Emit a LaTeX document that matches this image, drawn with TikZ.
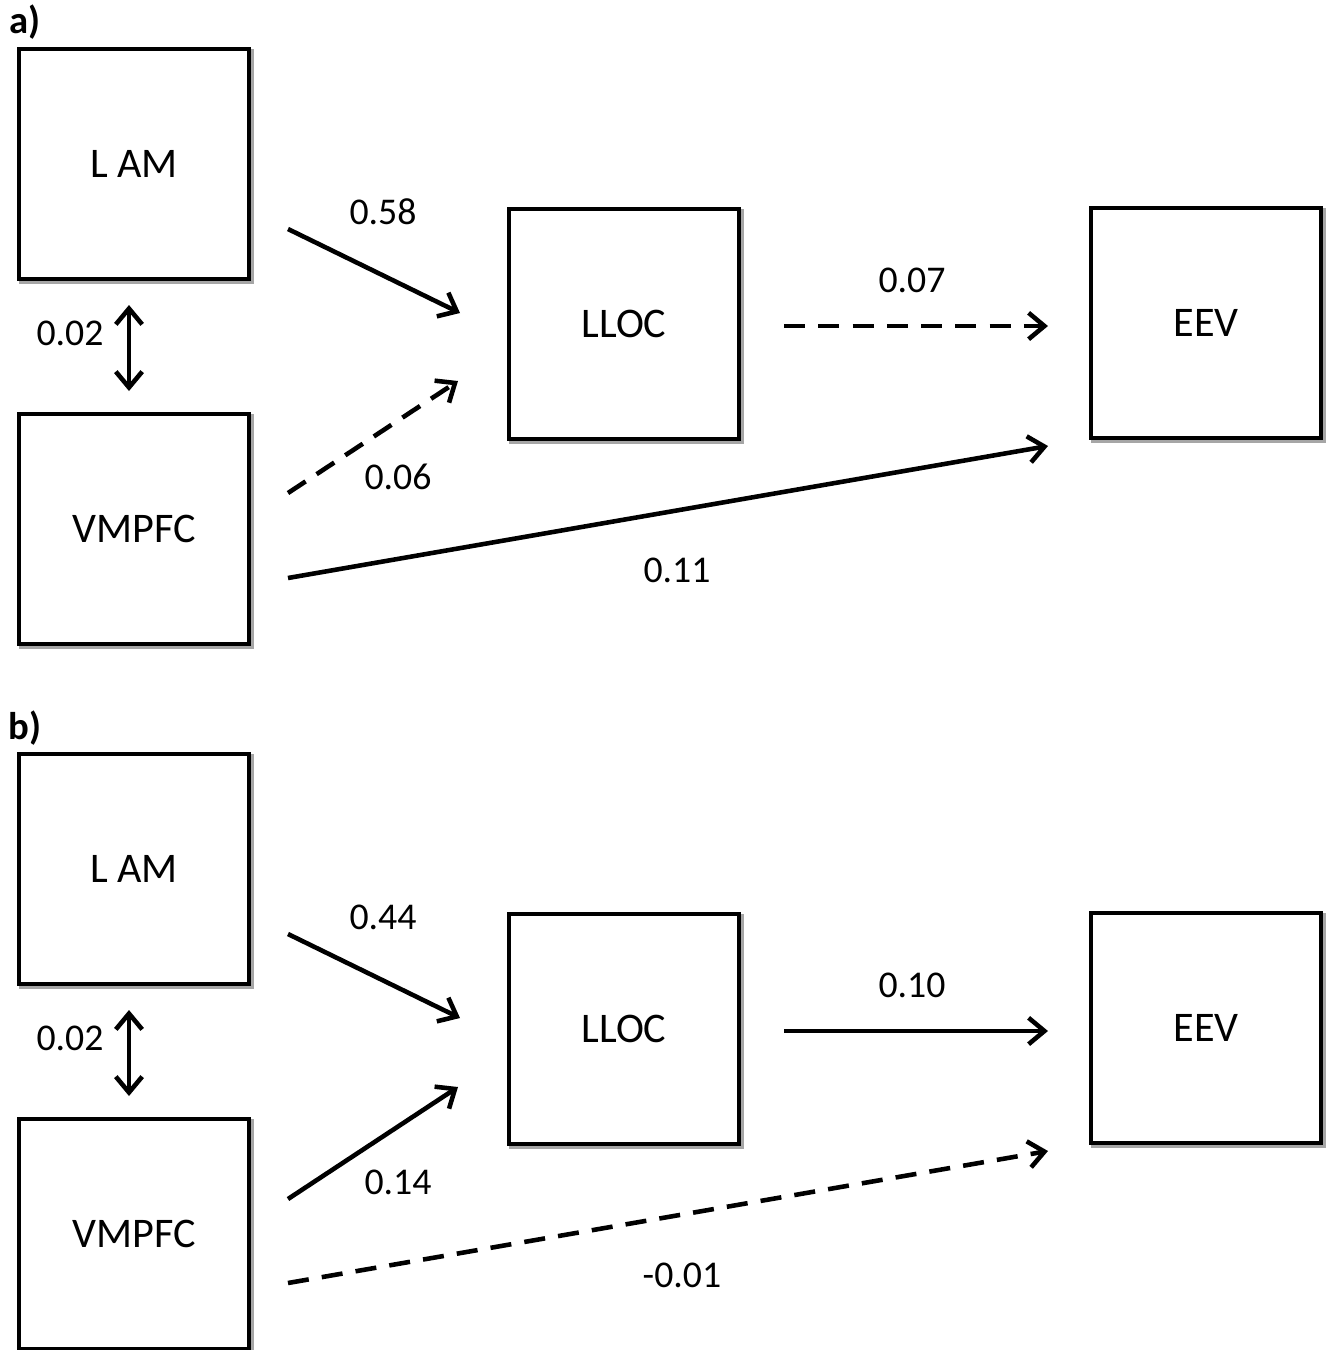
\documentclass[tikz,border=0pt]{standalone}
\usepackage{fontspec}
\setmainfont{Carlito}
\usetikzlibrary{arrows.meta}
\begin{document}
\begin{tikzpicture}[x=0.02cm,y=-0.02cm,
  box/.style={draw=black,line width=2.8pt,fill=white,minimum width=4.6cm,minimum height=4.6cm,inner sep=0pt,font=\fontsize{24}{28}\selectfont,
    preaction={draw=black!35,line width=2.8pt,transform canvas={xshift=1.2pt,yshift=-1.5pt}}},
  lbl/.style={font=\fontsize{21.5}{25}\selectfont,inner sep=0pt},
  panel/.style={font=\fontsize{22}{26}\selectfont\bfseries,inner sep=0pt},
  conn/.style={line width=2.6pt,-{Straight Barb[length=9pt,width=15pt,line width=2.6pt]}},
  dbl/.style={line width=2.6pt,{Straight Barb[length=9pt,width=15pt,line width=2.6pt]}-{Straight Barb[length=9pt,width=15pt,line width=2.6pt]}},
  dsh/.style={dash pattern=on 12pt off 7.5pt}]
\useasboundingbox (0,0) rectangle (1327,1350);
% ---------- panel a ----------
\node[panel] (pa) at (25,22) {a)};
\node[box] (lam1) at (134,164) {L AM};
\node[box] (vm1) at (134,529) {VMPFC};
\node[box] (ll1) at (624,324) {LLOC};
\node[box] (eev1) at (1206,323) {EEV};
\coordinate (a1s) at (288,229); \coordinate (a1e) at (460,313);
\coordinate (a2s) at (288,493); \coordinate (a2e) at (458,381);
\coordinate (a3s) at (784,326); \coordinate (a3e) at (1048,326);
\coordinate (a4s) at (288,578); \coordinate (a4e) at (1048,446);
\coordinate (a5s) at (129,305); \coordinate (a5e) at (129,391);
\draw[conn] (a1s) -- (a1e);
\draw[conn,dsh] (a2s) -- (a2e);
\draw[conn,dsh] (a3s) -- (a3e);
\draw[conn] (a4s) -- (a4e);
\draw[dbl] (a5s) -- (a5e);
\node[lbl] (la1) at (383,212) {0.58};
\node[lbl] (la2) at (398,477) {0.06};
\node[lbl] (la3) at (912,280) {0.07};
\node[lbl] (la4) at (677,570) {0.11};
\node[lbl] (la5) at (70,333) {0.02};
% ---------- panel b ----------
\node[panel] (pb) at (25,728) {b)};
\node[box] (lam2) at (134,869) {L AM};
\node[box] (vm2) at (134,1234) {VMPFC};
\node[box] (ll2) at (624,1029) {LLOC};
\node[box] (eev2) at (1206,1028) {EEV};
\coordinate (b1s) at (288,934); \coordinate (b1e) at (460,1018);
\coordinate (b2s) at (288,1199); \coordinate (b2e) at (458,1087);
\coordinate (b3s) at (784,1031); \coordinate (b3e) at (1048,1031);
\coordinate (b4s) at (288,1283); \coordinate (b4e) at (1048,1151);
\coordinate (b5s) at (129,1010); \coordinate (b5e) at (129,1096);
\draw[conn] (b1s) -- (b1e);
\draw[conn] (b2s) -- (b2e);
\draw[conn] (b3s) -- (b3e);
\draw[conn,dsh] (b4s) -- (b4e);
\draw[dbl] (b5s) -- (b5e);
\node[lbl] (lb1) at (383,917) {0.44};
\node[lbl] (lb2) at (398,1182) {0.14};
\node[lbl] (lb3) at (912,985) {0.10};
\node[lbl] (lb4) at (682,1275) {-0.01};
\node[lbl] (lb5) at (70,1038) {0.02};
\end{tikzpicture}
\end{document}
